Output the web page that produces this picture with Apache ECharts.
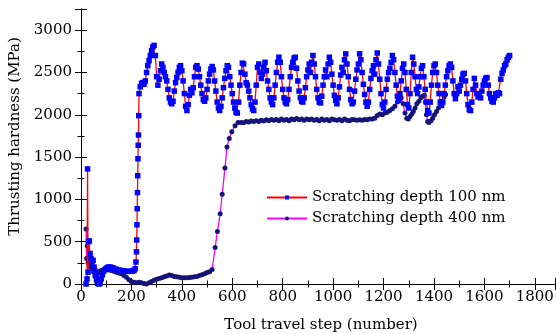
<!DOCTYPE html>
<html>
<head>
<meta charset="utf-8">
<script src="https://cdn.jsdelivr.net/npm/echarts@6/dist/echarts.min.js"></script>
<style>
  html, body { margin: 0; padding: 0; background: #fff; }
  #chart { width: 556px; height: 334px; }
</style>
</head>
<body>
<div id="chart"></div>
<script>
// axis ticks
const xTicks = [0, 200, 400, 600, 800, 1000, 1200, 1400, 1600, 1800];
const yTicks = [0, 500, 1000, 1500, 2000, 2500, 3000];

const seriesNames = ["Scratching depth 100 nm", "Scratching depth 400 nm"];

// 100 nm: early part, [step, MPa]
const depth100Start = [
  [20, 0], [24, 60], [26, 1360], [28, 140], [30, 500], [33, 510], [36, 360],
  [40, 300], [44, 260], [48, 280], [52, 200], [56, 150], [60, 100], [64, 60],
  [68, 20], [72, 0], [76, 10], [80, 60], [85, 110], [90, 150], [95, 170],
  [100, 185], [105, 195], [110, 200], [115, 200], [120, 195], [125, 190],
  [130, 185], [140, 175], [150, 165], [160, 160], [170, 155], [180, 150],
  [190, 150], [200, 150], [205, 155], [210, 160], [215, 180], [218, 260],
  [220, 380], [221, 520], [222, 700], [223, 890], [224, 1080], [225, 1280],
  [226, 1480], [227, 1640], [228, 1760], [229, 1990]
];

// 100 nm: oscillating plateau, one value every 5 steps from step 230 to 1700
const depth100BandStart = 230;
const depth100BandStep = 5;
const depth100Band = [
  2250, 2330, 2370, 2380, 2360, 2400, 2500, 2580, 2640, 2700, 2760, 2800, 2820, 2700,
  2450, 2350, 2420, 2520, 2600, 2560, 2500, 2450, 2400, 2300, 2200, 2150, 2130, 2160,
  2280, 2380, 2440, 2500, 2560, 2580, 2520, 2400, 2250, 2100, 2050, 2120, 2230, 2300,
  2260, 2320, 2450, 2560, 2580, 2540, 2450, 2350, 2250, 2180, 2160, 2200, 2300, 2400,
  2480, 2540, 2570, 2530, 2400, 2280, 2150, 2080, 2050, 2100, 2200, 2320, 2430, 2520,
  2580, 2560, 2450, 2350, 2250, 2150, 2080, 2030, 2020, 2150, 2350, 2500, 2610, 2600,
  2480, 2380, 2350, 2280, 2200, 2120, 2070, 2050, 2150, 2350, 2560, 2600, 2500, 2430,
  2480, 2560, 2620, 2520, 2400, 2300, 2200, 2150, 2120, 2200, 2350, 2500, 2620, 2680,
  2620, 2450, 2300, 2200, 2150, 2130, 2180, 2300, 2450, 2560, 2620, 2670, 2680, 2550,
  2400, 2280, 2200, 2160, 2150, 2200, 2320, 2450, 2530, 2600, 2500, 2620, 2700, 2600,
  2450, 2300, 2200, 2150, 2140, 2220, 2350, 2450, 2530, 2450, 2600, 2680, 2620, 2480,
  2350, 2230, 2170, 2130, 2200, 2330, 2470, 2560, 2500, 2650, 2720, 2600, 2450, 2300,
  2180, 2130, 2150, 2280, 2420, 2530, 2600, 2720, 2650, 2500, 2360, 2240, 2150, 2100,
  2150, 2300, 2430, 2520, 2580, 2480, 2650, 2730, 2600, 2420, 2250, 2120, 2080, 2150,
  2300, 2420, 2500, 2550, 2620, 2700, 2650, 2500, 2350, 2220, 2170, 2250, 2400, 2550,
  2600, 2500, 2300, 2120, 2080, 2250, 2500, 2680, 2600, 2450, 2300, 2250, 2330, 2450,
  2550, 2580, 2450, 2300, 2150, 2050, 2020, 2150, 2350, 2500, 2580, 2600, 2500, 2350,
  2250, 2150, 2110, 2150, 2250, 2350, 2450, 2520, 2580, 2600, 2560, 2400, 2250, 2190,
  2250, 2330, 2280, 2350, 2420, 2480, 2490, 2400, 2250, 2120, 2060, 2050, 2150, 2300,
  2430, 2350, 2250, 2210, 2250, 2200, 2280, 2350, 2400, 2430, 2440, 2350, 2250, 2200,
  2160, 2150, 2200, 2250, 2230, 2260, 2250, 2420, 2490, 2530, 2580, 2600, 2650, 2680,
  2700
];

// 400 nm, [step, MPa]
const depth400 = [
  [20, 650], [22, 300], [25, 450], [28, 250], [32, 220], [36, 210], [40, 200],
  [45, 180], [50, 140], [55, 90], [60, 40], [63, 0], [66, 60], [70, 130],
  [75, 150], [80, 160], [90, 170], [100, 170], [110, 165], [120, 160], [130, 150],
  [140, 140], [150, 130], [160, 120], [170, 100], [180, 80], [190, 50], [200, 30],
  [210, 20], [220, 15], [230, 20], [240, 15], [250, 5], [260, 0], [270, 15],
  [280, 30], [290, 45], [300, 55], [310, 65], [320, 75], [330, 85], [340, 95],
  [350, 105], [360, 100], [370, 90], [380, 85], [390, 80], [400, 75], [410, 75],
  [420, 75], [430, 78], [440, 80], [450, 85], [460, 90], [470, 100], [480, 110],
  [490, 120], [500, 135], [510, 145], [520, 170], [532, 430], [541, 620],
  [552, 830], [560, 1060], [571, 1370], [579, 1620], [588, 1720], [598, 1800],
  [611, 1870], [623, 1910], [635, 1910], [645, 1905], [655, 1920], [665, 1915],
  [675, 1925], [685, 1920], [695, 1930], [705, 1920], [715, 1935], [725, 1925],
  [735, 1940], [745, 1930], [755, 1945], [765, 1935], [775, 1945], [785, 1930],
  [795, 1950], [805, 1935], [815, 1945], [825, 1930], [835, 1950], [845, 1940],
  [855, 1955], [865, 1940], [875, 1950], [885, 1935], [895, 1950], [905, 1940],
  [915, 1950], [925, 1935], [935, 1945], [945, 1930], [955, 1950], [965, 1935],
  [975, 1945], [985, 1930], [995, 1950], [1005, 1940], [1015, 1935], [1025, 1945],
  [1035, 1930], [1045, 1950], [1055, 1935], [1065, 1930], [1075, 1945], [1085, 1940],
  [1095, 1935], [1105, 1940], [1115, 1935], [1125, 1945], [1135, 1940], [1145, 1950],
  [1155, 1950], [1165, 1960], [1175, 1990], [1185, 2010], [1195, 2000], [1205, 2020],
  [1215, 2030], [1225, 2050], [1235, 2070], [1245, 2100], [1255, 2150], [1262, 2170],
  [1270, 2200], [1278, 2130], [1285, 2020], [1292, 1960], [1298, 1950], [1305, 1980],
  [1312, 2010], [1318, 2040], [1325, 2080], [1332, 2130], [1340, 2160], [1348, 2200],
  [1355, 2220], [1362, 2230], [1366, 2150], [1370, 2000], [1375, 1920], [1380, 1910],
  [1388, 1930], [1395, 1960], [1402, 2000], [1410, 2040], [1418, 2080], [1425, 2120],
  [1432, 2160], [1440, 2210], [1446, 2240]
];

const depth100 = depth100Start.concat(
  depth100Band.map((v, i) => [depth100BandStart + i * depth100BandStep, v])
);

const FONT = "'DejaVu Serif', 'Liberation Serif', serif";

const chart = echarts.init(document.getElementById("chart"), null, { renderer: "canvas" });

const axisLine = { show: true, lineStyle: { color: "#000", width: 1 } };
const tick = { inside: true, length: 6, lineStyle: { color: "#000" } };
const minor = { show: true, splitNumber: 2, length: 3.5, lineStyle: { color: "#000" } };

chart.setOption({
  animation: false,
  backgroundColor: "#fff",
  grid: { left: 81, right: 1, top: 9, bottom: 50, outerBoundsMode: "none" },
  legend: {
    orient: "vertical",
    left: 261,
    top: 185,
    itemWidth: 40,
    itemHeight: 5,
    itemGap: 6,
    textStyle: { fontFamily: FONT, fontSize: 15, color: "#000" },
    data: seriesNames
  },
  xAxis: [
    {
      type: "value",
      min: 0,
      max: 1880,
      interval: 200,
      axisLine,
      axisTick: tick,
      minorTick: minor,
      splitLine: { show: false },
      axisLabel: {
        showMaxLabel: false,
        margin: 6,
        fontFamily: FONT,
        fontSize: 15,
        color: "#000",
        formatter: (v) => (xTicks.includes(v) ? String(v) : "")
      },
      name: "Tool travel step (number)",
      nameLocation: "middle",
      nameGap: 34,
      nameTextStyle: { fontFamily: FONT, fontSize: 15, color: "#000", padding: [0, 0, 0, 6] }
    },
    {
      type: "value",
      position: "top",
      min: 0,
      max: 1880,
      interval: 200,
      axisLine,
      axisTick: tick,
      minorTick: minor,
      splitLine: { show: false },
      axisLabel: { show: false }
    }
  ],
  yAxis: [
    {
      type: "value",
      min: 0,
      max: 3250,
      interval: 500,
      axisLine,
      axisTick: tick,
      minorTick: minor,
      splitLine: { show: false },
      axisLabel: {
        showMaxLabel: false,
        margin: 9,
        fontFamily: FONT,
        fontSize: 15,
        color: "#000",
        formatter: (v) => (yTicks.includes(v) ? String(v) : "")
      },
      name: "Thrusting hardness (MPa)",
      nameLocation: "middle",
      nameGap: 56,
      nameTextStyle: { fontFamily: FONT, fontSize: 15, color: "#000", padding: [0, 0, 0, 20] }
    },
    {
      type: "value",
      position: "right",
      min: 0,
      max: 3250,
      interval: 500,
      axisLine,
      axisTick: tick,
      minorTick: minor,
      splitLine: { show: false },
      axisLabel: { show: false }
    }
  ],
  series: [
    {
      name: seriesNames[1],
      type: "line",
      data: depth400,
      symbol: "circle",
      symbolSize: 5,
      itemStyle: { color: "#14147a" },
      lineStyle: { color: "#ff00ff", width: 1.3 },
      z: 2
    },
    {
      name: seriesNames[0],
      type: "line",
      data: depth100,
      symbol: "rect",
      symbolSize: 5.5,
      itemStyle: { color: "#0000ff" },
      lineStyle: { color: "#ff0000", width: 1.3 },
      z: 3
    }
  ]
});
</script>
</body>
</html>
